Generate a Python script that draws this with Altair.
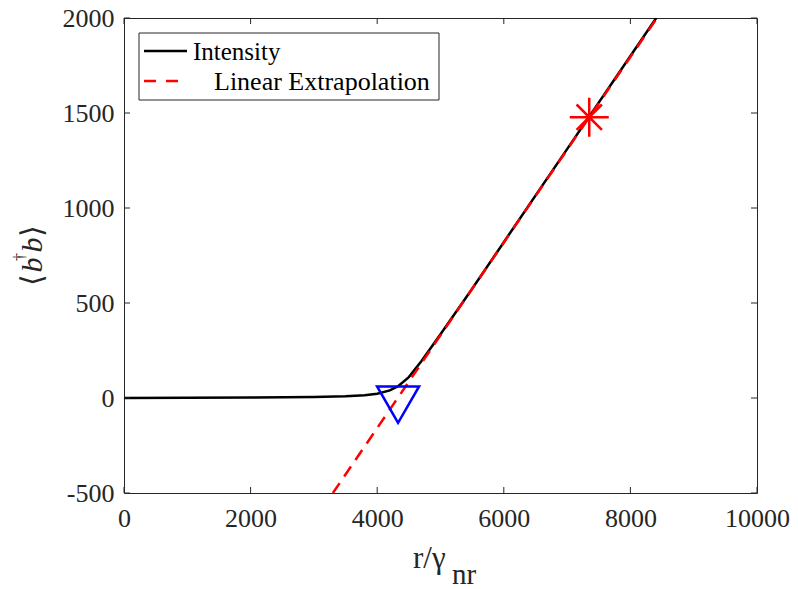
import altair as alt
import pandas as pd

# Intensity curve
int_x = [0, 1000, 2000, 3000, 3500, 3800, 4000, 4200, 4330, 4500, 4700, 5000, 5500, 6000, 7000, 8000, 8500]
int_y = [0, 1, 2, 5, 9, 15, 22, 40, 62, 110, 195, 335, 575, 820, 1310, 1800, 2045]

# Linear extrapolation end points
lin_x = [3300, 8420]
lin_y = [-500, 2000]

# markers
tri_x, tri_y = [4330], [-35]
star_x, star_y = [7350], [1478]

x_ticks = [0, 2000, 4000, 6000, 8000, 10000]
y_ticks = [-500, 0, 500, 1000, 1500, 2000]

W, H = 633, 475
L, T = 124, 18
FONT = "Liberation Serif"
AX = "#262626"

xs = alt.Scale(domain=[0, 10000], nice=False, zero=False)
ys = alt.Scale(domain=[-500, 2000], nice=False, zero=False)

xax = alt.Axis(values=x_ticks, grid=False, domain=False, ticks=False, labelFont=FONT,
               labelFontSize=26, labelColor=AX, labelPadding=12, title=None,
               labelFlush=False, labelOverlap=False, labelExpr="toString(datum.value)")
yax = alt.Axis(values=y_ticks, grid=False, domain=False, ticks=False, labelFont=FONT,
               labelFontSize=26, labelColor=AX, labelPadding=10, title=None,
               labelFlush=False, labelOverlap=False, labelExpr="toString(datum.value)")

df_int = pd.DataFrame({"x": int_x, "y": int_y})
df_lin = pd.DataFrame({"x": lin_x, "y": lin_y})

base_int = alt.Chart(df_int).mark_line(color="black", strokeWidth=2.5, clip=True).encode(
    x=alt.X("x:Q", scale=xs, axis=xax),
    y=alt.Y("y:Q", scale=ys, axis=yax),
)
lin = alt.Chart(df_lin).mark_line(color="#ff0000", strokeWidth=2.5, strokeDash=[12, 8], clip=True).encode(
    x=alt.X("x:Q", scale=xs), y=alt.Y("y:Q", scale=ys))

tri = alt.Chart(pd.DataFrame({"x": tri_x, "y": tri_y})).mark_point(
    shape="triangle-down", size=1764, filled=False, color="#0000ff", strokeWidth=2.5, opacity=1
).encode(x=alt.X("x:Q", scale=xs), y=alt.Y("y:Q", scale=ys))

star_path = "M-1,0L1,0M0,-1L0,1M-0.65,-0.65L0.65,0.65M-0.65,0.65L0.65,-0.65"
star = alt.Chart(pd.DataFrame({"x": star_x, "y": star_y})).mark_point(
    shape=star_path, size=1521, filled=False, color="#ff0000", strokeWidth=2.5, opacity=1
).encode(x=alt.X("x:Q", scale=xs), y=alt.Y("y:Q", scale=ys))

# inward ticks
dfx = pd.DataFrame({"t": x_ticks})
dfy = pd.DataFrame({"t": y_ticks})
xt_b = alt.Chart(dfx).mark_rule(color=AX, strokeWidth=1).encode(
    x=alt.X("t:Q", scale=xs), y=alt.value(H), y2=alt.value(H - 6))
xt_t = alt.Chart(dfx).mark_rule(color=AX, strokeWidth=1).encode(
    x=alt.X("t:Q", scale=xs), y=alt.value(0), y2=alt.value(6))
yt_l = alt.Chart(dfy).mark_rule(color=AX, strokeWidth=1).encode(
    y=alt.Y("t:Q", scale=ys), x=alt.value(0), x2=alt.value(6))
yt_r = alt.Chart(dfy).mark_rule(color=AX, strokeWidth=1).encode(
    y=alt.Y("t:Q", scale=ys), x=alt.value(W), x2=alt.value(W - 6))

one = pd.DataFrame({"a": [0]})

# legend
leg_box = alt.Chart(one).mark_rect(
    fill="white", stroke=AX, strokeWidth=1).encode(
    x=alt.value(15), x2=alt.value(315), y=alt.value(15), y2=alt.value(82))
leg_l1 = alt.Chart(one).mark_rule(color="black", strokeWidth=2.5).encode(
    x=alt.value(20), x2=alt.value(63), y=alt.value(33))
leg_l2 = alt.Chart(one).mark_rule(
    color="#ff0000", strokeWidth=2.5, strokeDash=[12, 10]).encode(
    x=alt.value(20), x2=alt.value(54), y=alt.value(63))


def txt(s, x, y, size, align="left", baseline="alphabetic", angle=0, style="normal", color="black"):
    kw = dict(font=FONT, fontSize=size, align=align, baseline=baseline, color=color, fontStyle=style)
    if angle:
        kw["angle"] = angle
    return alt.Chart(pd.DataFrame({"s": [s]})).mark_text(**kw).encode(
        x=alt.value(x - L), y=alt.value(y - T), text="s:N")


leg_t1 = txt("Intensity", 193, 52, 25, baseline="middle")
leg_t2 = txt("Linear Extrapolation", 214, 82, 26, baseline="middle")

# axis titles
xt1 = txt("r/γ", 413, 568, 31, color=AX)
xt2 = txt("nr", 452, 584, 29, color=AX)

# y title pieces: ⟨ b † b ⟩ rotated
yb = 42
y1 = txt("⟨", yb, 280, 30, align="center", angle=270, color=AX)
y2 = txt("b", yb, 265, 30, align="center", angle=270, style="italic", color=AX)
y3 = txt("†", 25, 257, 16, align="center", angle=270, color=AX)
y4 = txt("b", yb, 245, 30, align="center", angle=270, style="italic", color=AX)
y5 = txt("⟩", yb, 231, 30, align="center", angle=270, color=AX)

chart = alt.layer(
    base_int, lin, tri, star, xt_b, xt_t, yt_l, yt_r,
    leg_box, leg_l1, leg_l2, leg_t1, leg_t2, xt1, xt2, y1, y2, y3, y4, y5
).properties(
    width=W, height=H,
    autosize=alt.AutoSizeParams(type="none"),
    padding={"left": L, "top": T, "right": 798 - L - W, "bottom": 589 - T - H},
    background="white",
).configure_view(stroke=AX, strokeWidth=1)

chart.save("out.html", embed_options={"renderer": "svg", "actions": False})
